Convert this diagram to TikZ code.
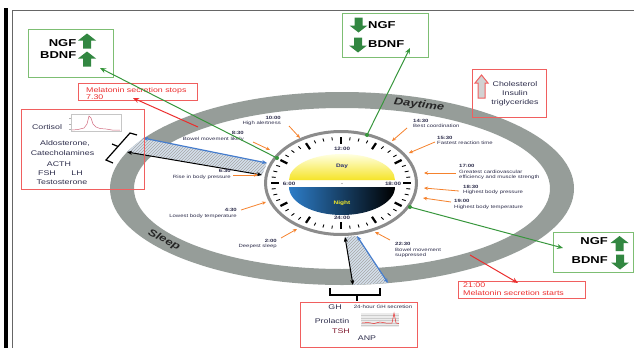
\documentclass[tikz,border=0pt]{standalone}
\usepackage{fontspec}
\setmainfont{Liberation Sans}[FakeStretch=1.3]
\usetikzlibrary{arrows.meta,patterns}

\definecolor{ringgrey}{RGB}{150,157,153}
\definecolor{clockgrey}{RGB}{140,140,140}
\definecolor{labelcol}{RGB}{45,45,75}
\definecolor{tickorange}{RGB}{245,130,45}
\definecolor{linegreen}{RGB}{55,150,60}
\definecolor{blockgreen}{RGB}{50,135,65}
\definecolor{boxgreen}{RGB}{125,190,115}
\definecolor{boxred}{RGB}{240,95,95}
\definecolor{textred}{RGB}{235,45,45}
\definecolor{bandblue}{RGB}{70,125,205}
\definecolor{bandfill}{RGB}{212,224,236}
\definecolor{dayyellow}{RGB}{245,228,40}
\definecolor{daynavy}{RGB}{40,45,110}
\definecolor{nightblue}{RGB}{45,125,200}
\definecolor{nightyellow}{RGB}{245,235,40}
\definecolor{tshred}{RGB}{130,30,50}
\definecolor{chartpink}{RGB}{210,110,130}

\newcommand{\blockup}[1]{\fill[blockgreen,shift={#1}] (0,-7.5) -- (9,-0.5) -- (4,-0.5) -- (4,7.5) -- (-4,7.5) -- (-4,-0.5) -- (-9,-0.5) -- cycle;}
\newcommand{\blockdown}[1]{\fill[blockgreen,shift={#1}] (0,7.5) -- (9,0.5) -- (4,0.5) -- (4,-7.5) -- (-4,-7.5) -- (-4,0.5) -- (-9,0.5) -- cycle;}

\begin{document}
\begin{tikzpicture}[x=1pt,y=-1pt,
  lbl/.style={font=\fontsize{4.6}{5.6}\selectfont, text=labelcol, inner sep=0pt},
  hr/.style={font=\fontsize{4.8}{5.6}\selectfont\bfseries, text=labelcol, inner sep=0pt},
  dn/.style={font=\fontsize{5}{6}\selectfont\bfseries, inner sep=0pt},
  oarrow/.style={draw=tickorange, line width=0.8, -{Stealth[length=4pt,width=3.5pt]}},
  garrow/.style={draw=linegreen, line width=1, -{Stealth[length=6pt,width=5pt]}},
  rarrow/.style={draw=textred, line width=1, -{Stealth[length=6pt,width=5pt]}},
  dblarrow/.style={{Stealth[length=5pt,width=4pt]}-{Stealth[length=5pt,width=4pt]}},
  gbox/.style={draw=boxgreen, line width=1, inner sep=0pt},
  rbox/.style={draw=boxred, line width=0.9, inner sep=0pt},
  ngf/.style={font=\fontsize{10}{12}\selectfont\bfseries, inner sep=0pt},
  btxt/.style={font=\fontsize{6.8}{8}\selectfont, text=labelcol, inner sep=0pt},
  rtxt/.style={font=\fontsize{6.8}{7.5}\selectfont, text=textred, inner sep=0pt, align=left},
  ringtxt/.style={font=\fontsize{10}{12}\selectfont\bfseries\itshape, text=black!85, inner sep=0pt}]
\useasboundingbox (0,0) rectangle (634,348);

% frame
\draw[black, line width=4] (6,8) -- (6,348);
\draw[gray!80!black, line width=0.8] (12,348) -- (12,10) -- (634,10);

% day / sleep ring
\fill[ringgrey, even odd rule] (342,188.5) ellipse [x radius=232, y radius=96.5]
  (342,188.5) ellipse [x radius=208, y radius=80.5];
\node[ringtxt, rotate=-7] (daytime) at (419,105) {Daytime};
\node[ringtxt, rotate=-28] (sleep) at (164,240) {Sleep};

% clock
\coordinate (clk) at (341,183);
\draw[clockgrey, line width=3, fill=white] (clk) ellipse [x radius=75.5, y radius=51.5];
\foreach \a in {0,30,...,330}
  \draw[line width=2.2, shift={(clk)}] (\a:70 and 46) -- (\a:62 and 39);
\foreach \a in {0,30,...,330}
  \foreach \b in {7.5,15,22.5}
    \draw[line width=0.9, shift={(clk)}] (\a+\b:70 and 46) -- (\a+\b:66 and 43);
\shade[top color=yellow!12, bottom color=dayyellow] (289,180) arc[start angle=180, end angle=360, x radius=53, y radius=26] -- cycle;
\shade[left color=nightblue, middle color=nightblue!60!black, right color=black] (289,187) arc[start angle=180, end angle=0, x radius=53, y radius=28] -- cycle;
\fill[gray] (342,183.5) circle (0.6);
\node[dn, text=daynavy] (day) at (342,166) {Day};
\node[dn, text=nightyellow] (night) at (342,203) {Night};
\node[hr] (h12) at (342,149) {12:00};
\node[hr] (h24) at (342,218) {24:00};
\node[hr] (h06) at (289,183.5) {6:00};
\node[hr] (h18) at (393,183.5) {18:00};

% hatched bands
\coordinate (bl1) at (143,138); \coordinate (bl2) at (267,163);
\coordinate (kl1) at (127,152); \coordinate (kl2) at (262,175);
\fill[bandfill] (bl1) -- (bl2) -- (kl2) -- (kl1) -- cycle;
\fill[pattern=north east lines, pattern color=gray!70] (bl1) -- (bl2) -- (kl2) -- (kl1) -- cycle;
\draw[bandblue, line width=1.2, dblarrow] (bl1) -- (bl2);
\draw[black, line width=1, dblarrow] (kl1) -- (kl2);
\coordinate (kb1) at (345,237); \coordinate (kb2) at (353,285);
\coordinate (bb1) at (357,236); \coordinate (bb2) at (388,283);
\fill[bandfill] (kb1) -- (bb1) -- (bb2) -- (kb2) -- cycle;
\fill[pattern=north east lines, pattern color=gray!70] (kb1) -- (bb1) -- (bb2) -- (kb2) -- cycle;
\draw[bandblue, line width=1.2, dblarrow] (bb1) -- (bb2);
\draw[black, line width=1, dblarrow] (kb1) -- (kb2);

% brackets
\draw[line width=1.2] (137,135) -- (130,133) -- (106,160) -- (113,163);
\draw[line width=1.2] (118,146.5) -- (112,144);
\draw[line width=1.2] (330,288) -- (330,295) -- (380,295) -- (380,288);
\draw[line width=1.2] (357,295) -- (357,301);

% times round the clock
\node[lbl, anchor=east, align=right] (t1000) at (281,121) {\textbf{10:00}\\High alertness};
\node[lbl, anchor=east, align=right] (t0830) at (244,136.5) {\textbf{8:30}\\Bowel movement likely};
\node[lbl, anchor=east, align=right] (t0630) at (231,174.5) {\textbf{6:30}\\Rise in body pressure};
\node[lbl, anchor=east, align=right] (t0430) at (237,213.5) {\textbf{4:30}\\Lowest body temperature};
\node[lbl, anchor=east, align=right] (t0200) at (277,244) {\textbf{2:00}\\Deepest sleep};
\node[lbl, anchor=west, align=left] (t1430) at (413,123.5) {\textbf{14:30}\\Best coordination};
\node[lbl, anchor=west, align=left] (t1530) at (437,140.5) {\textbf{15:30}\\Fastest reaction time};
\node[lbl, anchor=west, align=left] (t1700) at (459,172) {\textbf{17:00}\\Greatest cardiovascular\\efficiency and muscle strength};
\node[lbl, anchor=west, align=left] (t1830) at (463,190) {\textbf{18:30}\\Highest body pressure};
\node[lbl, anchor=west, align=left] (t1900) at (454,204.5) {\textbf{19:00}\\Highest body temperature};
\node[lbl, anchor=west, align=left] (t2230) at (395,250) {\textbf{22:30}\\Bowel movement\\suppressed};

\foreach \n/\sx/\sy/\ex/\ey in {1000/289/126/300/138, 0830/253/142/270/150, 0630/233/175/258/175,
    0430/241/210/266/202, 0200/281/238/297/229, 1430/407/128/392/141, 1530/435/142/409/153,
    1700/456/173/424/173, 1830/459/191/424/188, 1900/451/202/423/198, 2230/390/240/375/232}{
  \coordinate (s\n) at (\sx,\sy);
  \coordinate (e\n) at (\ex,\ey);
  \draw[oarrow] (s\n) -- (e\n);
}

% boxes
\node[gbox, minimum width=85, minimum height=48] (ngfleft) at (70.5,53) {};
\node[ngf, anchor=east] (ngfa) at (76.5,43.5) {NGF};
\node[ngf, anchor=east] (bdnfa) at (76.5,55.5) {BDNF};
\blockup{(87,41)}
\blockup{(87,59)}

\node[gbox, minimum width=86, minimum height=44] (ngftop) at (385,35) {};
\node[ngf, anchor=west] (ngfb) at (368,25.5) {NGF};
\node[ngf, anchor=west] (bdnfb) at (368,44) {BDNF};
\blockdown{(358.5,25)}
\blockdown{(358,45)}

\node[gbox, minimum width=80, minimum height=40] (ngfright) at (593,252) {};
\node[ngf, anchor=east] (ngfc) at (608,241.5) {NGF};
\node[ngf, anchor=east] (bdnfc) at (608,260.5) {BDNF};
\blockup{(619.5,243.5)}
\blockdown{(620,262)}

\node[rbox, minimum width=119, minimum height=17] (melstop) at (137.5,91.5) {};
\node[rtxt, anchor=west] (melstoptxt) at (86,93.5) {Melatonin secretion stops\\7.30};

\node[rbox, minimum width=127, minimum height=17] (melstart) at (521.5,289.5) {};
\node[rtxt, anchor=west] (melstarttxt) at (463,289) {21:00\\Melatonin secretion starts};

\node[rbox, minimum width=123, minimum height=80] (cortbox) at (82.5,149) {};
\node[btxt] (cortisol) at (47,127) {Cortisol};
\node[btxt] (aldo) at (65,143) {Aldosterone,};
\node[btxt] (catech) at (62.5,153) {Catecholamines};
\node[btxt] (acth) at (59,164) {ACTH};
\node[btxt] (fsh) at (47,173) {FSH};
\node[btxt] (lh) at (77,173) {LH};
\node[btxt] (testo) at (62,182) {Testosterone};
\draw[gray!45, line width=0.3] (71,114) rectangle (121,131);
\foreach \y in {118,124,129}
  \draw[gray!60, line width=0.3] (69,\y) -- (71,\y);
\draw[chartpink, line width=0.5] (72,130) -- (78,129.5) -- (84,128) -- (87,124) -- (89,116) -- (91,118)
  -- (93,124) -- (96,127) -- (100,128.5) -- (106,129) -- (112,130) -- (120,130);

\node[rbox, minimum width=74, minimum height=48] (cholbox) at (509,93) {};
\fill[gray!35] (481.5,75) -- (488,83) -- (485,83) -- (485,98) -- (478,98) -- (478,83) -- (475,83) -- cycle;
\draw[boxred, line width=1] (481.5,75) -- (488,83) -- (485,83) -- (485,98) -- (478,98) -- (478,83) -- (475,83) -- cycle;
\node[btxt] (chol) at (515,84) {Cholesterol};
\node[btxt] (insulin) at (515,93) {Insulin};
\node[btxt] (trig) at (515,103) {triglycerides};

\node[rbox, minimum width=117, minimum height=45] (ghbox) at (358.5,324.5) {};
\node[btxt] (gh) at (335,307) {GH};
\node[btxt, font=\fontsize{4.7}{5}\selectfont] (ghsec) at (383,307) {24-hour GH secretion};
\node[btxt] (prolactin) at (332,321) {Prolactin};
\node[btxt, text=tshred] (tsh) at (341,331) {TSH};
\node[btxt] (anp) at (367,338) {ANP};
\fill[gray!15] (361,313) rectangle (399,327);
\foreach \y in {315.5,318,...,325.5}
  \draw[gray!40, line width=0.2] (361,\y) -- (399,\y);
\draw[textred, line width=0.5] (362,323) -- (368,322.5) -- (374,323.5) -- (380,322) -- (386,323)
  -- (392,323) -- (394,313) -- (396,323) -- (399,323.5);

% green and red connectors
\coordinate (gdleft) at (277,158); \coordinate (gtleft) at (100,68);
\coordinate (gdtop) at (367,135); \coordinate (gttop) at (410,48);
\coordinate (gdright) at (410,207); \coordinate (gtright) at (563,248);
\foreach \d/\t in {gdleft/gtleft, gdtop/gttop, gdright/gtright}{
  \fill[linegreen] (\d) circle (2);
  \draw[garrow] (\d) -- (\t);
}
\coordinate (rsstop) at (198,127); \coordinate (rtstop) at (133,98);
\coordinate (rsstart) at (470,255); \coordinate (rtstart) at (518,283);
\draw[rarrow] (rsstop) -- (rtstop);
\draw[rarrow] (rsstart) -- (rtstart);
\end{tikzpicture}
\end{document}
